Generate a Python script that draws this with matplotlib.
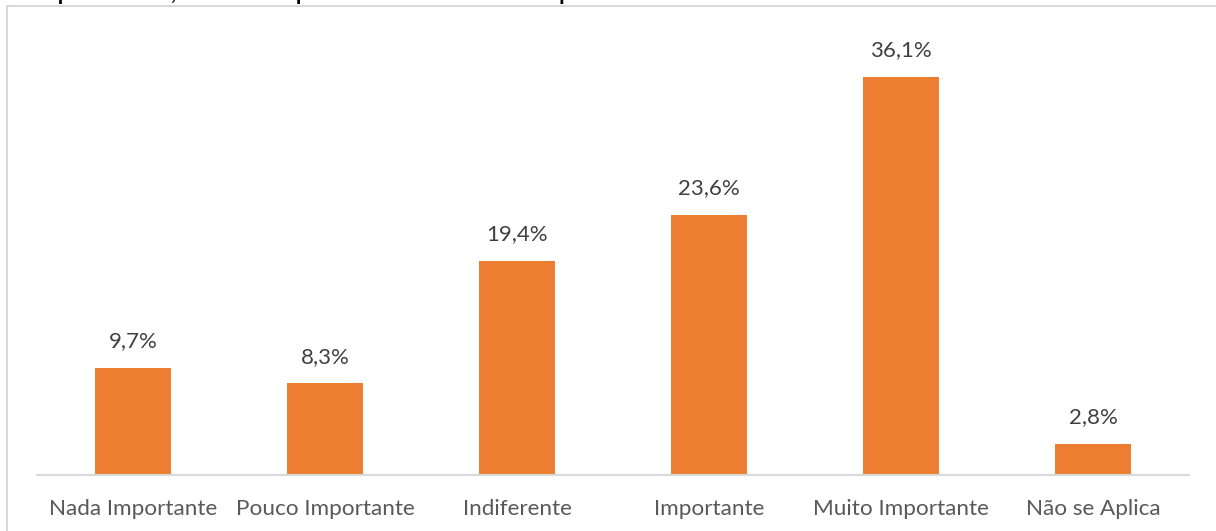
import matplotlib.pyplot as plt
from matplotlib.patches import Rectangle

categories = ["Nada Importante", "Pouco Importante", "Indiferente",
              "Importante", "Muito Importante", "Não se Aplica"]
values = [9.7, 8.3, 19.4, 23.6, 36.1, 2.8]
labels = ["9,7%", "8,3%", "19,4%", "23,6%", "36,1%", "2,8%"]

plt.rcParams['font.family'] = ['Lato', 'DejaVu Sans']

fig = plt.figure(figsize=(12.16, 5.31), dpi=100)
ax = fig.add_axes([37 / 1216, 56 / 531, 1152 / 1216, 441 / 531])

x = range(len(categories))
bars = ax.bar(x, values, width=0.4, color="#ED7D31")
for b, lab in zip(bars, labels):
    ax.annotate(lab, (b.get_x() + b.get_width() / 2, b.get_height()),
                xytext=(0, 12), textcoords="offset points",
                ha="center", va="bottom", fontsize=16, color="#404040")

ax.set_xlim(-0.5, len(categories) - 0.5)
ax.set_ylim(0, 40)
ax.set_xticks(list(x))
ax.set_xticklabels(categories, fontsize=16.2, color="#595959")
ax.tick_params(axis="x", length=0, pad=17)
ax.set_yticks([])
for s in ["top", "right", "left"]:
    ax.spines[s].set_visible(False)
ax.spines["bottom"].set_color("#D9D9D9")
ax.spines["bottom"].set_linewidth(1.5)

# chart frame
fig.patches.append(Rectangle((7 / 1216, -0.05), 1.1, (531 - 6) / 531 + 0.05,
                             transform=fig.transFigure, fill=False,
                             edgecolor="#D9D9D9", linewidth=1.5))

# caption text of the document, cut off at the top of the image
fig.text(24 / 1216, 1 + 1 / 531, "Importante, Nada Importante e Não se Aplica.",
         fontsize=21.5, color="black", ha="left", va="baseline")

fig.savefig("out.png", dpi=100)
